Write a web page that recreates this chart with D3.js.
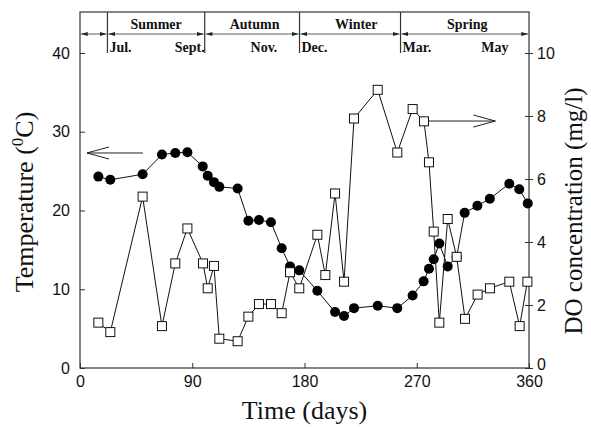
<!DOCTYPE html>
<html><head><meta charset="utf-8">
<script src="https://cdn.jsdelivr.net/npm/d3@7"></script>
<style>body{margin:0;background:#fff}svg{display:block}</style>
</head><body>
<svg id="c" width="591" height="427"></svg>
<script>
// ---- data ----
const tempDays = [14.7,24.3,50.2,65.7,76.4,86.1,98.4,102.4,107.4,111.7,126.4,135,143.5,153.1,161.7,168.4,175.8,190.3,204.5,211.7,219.7,238.7,254.4,266.7,275.5,279.8,283.6,288.1,294.8,302,308.4,318.6,328.6,344.2,352.2,359];
const tempVals = [24.3,23.9,24.6,27.1,27.3,27.4,25.6,24.4,23.6,23.0,22.8,18.7,18.8,18.5,15.2,12.9,12.4,9.8,7.1,6.6,7.6,7.9,7.6,9.2,11.0,12.6,13.8,15.8,12.9,14.1,19.7,20.6,21.5,23.4,22.7,20.9];
const doDays = [14.7,24.3,50.2,65.7,76.4,86.1,98.6,102.4,107.4,111.7,126.4,135,143.5,153.1,161.7,168.4,175.8,190.3,196.7,204.5,211.7,219.7,238.7,254.4,266.7,275.8,279.8,283.6,288.1,294.8,302,308.7,318.8,328.7,344.2,352.5,358.7];
const doVals = [1.44,1.14,5.44,1.33,3.32,4.43,3.32,2.53,3.24,0.93,0.85,1.63,2.03,2.03,1.74,3.04,2.53,4.23,2.95,5.54,2.74,7.92,8.83,6.84,8.22,7.83,6.53,4.33,1.44,4.73,3.53,1.56,2.33,2.53,2.74,1.33,2.74];
const xTicks = [0,90,180,270,360];
const yLeftTicks = [0,10,20,30,40];
const yRightTicks = [0,2,4,6,8,10];
const seasonBounds = [0,22,100,176,257,360];
const seasonNames = ["Summer","Autumn","Winter","Spring"];
const seasonLabelDays = [61,140,221.5,310.5];
const monthNames = ["Jul.","Sept.","Nov.","Dec.","Mar.","May"];
const monthDays = [22,100,147.5,176,257,332.7];
const monthAnchor = ["start","end","middle","start","start","middle"];

// ---- layout ----
const L=80,R=529,T=12,B=368;
const svg=d3.select("#c");
const x=d3.scaleLinear([0,360],[L,R]);
const yL=d3.scaleLinear([0,45],[B,13.6]);
const yR=d3.scaleLinear([0,11.25],[B,13.6]);

const defs=svg.append("defs");
defs.append("marker").attr("id","ah").attr("viewBox","0 0 10 6").attr("refX",10).attr("refY",3)
  .attr("markerWidth",7).attr("markerHeight",4).attr("markerUnits","userSpaceOnUse").attr("orient","auto-start-reverse")
  .append("path").attr("d","M0,0L10,3L0,6Z").attr("fill","#222");

// axes
const ax=svg.append("g");
const gx=ax.append("g").attr("transform",`translate(0,${B})`)
  .call(d3.axisBottom(x).tickValues(xTicks).tickSizeInner(-5).tickSizeOuter(0).tickPadding(8));
const gl=ax.append("g").attr("transform",`translate(${L},0)`)
  .call(d3.axisLeft(yL).tickValues(yLeftTicks).tickSizeInner(-5).tickSizeOuter(0).tickPadding(10));
const gr=ax.append("g").attr("transform",`translate(${R},0)`)
  .call(d3.axisRight(yR).tickValues(yRightTicks).tickSizeInner(4).tickSizeOuter(0).tickPadding(4));
gr.selectAll(".tick line").attr("x1",-4);
[gx,gl,gr].forEach(g=>{g.select(".domain").remove();g.selectAll("text").attr("fill","#111").attr("font-size",16).attr("font-family","'Liberation Sans',Arial,sans-serif");g.selectAll(".tick line").attr("stroke","#333");});
gr.selectAll(".tick text").filter(d=>d===0).attr("dy","0.1em");

svg.append("rect").attr("x",L).attr("y",T).attr("width",R-L).attr("height",B-T)
  .attr("fill","none").attr("stroke","#333").attr("stroke-width",1.2);

// header
const hdr=svg.append("g");
hdr.selectAll("line.sep").data(seasonBounds.slice(1,-1)).join("line")
  .attr("x1",d=>x(d)).attr("x2",d=>x(d)).attr("y1",T).attr("y2",53).attr("stroke","#333").attr("stroke-width",1.2);
hdr.selectAll("line.arr").data(d3.pairs(seasonBounds)).join("line")
  .attr("x1",d=>x(d[0])+1).attr("x2",d=>x(d[1])-1).attr("y1",34).attr("y2",34)
  .attr("stroke","#333").attr("stroke-width",0.8)
  .attr("marker-start","url(#ah)").attr("marker-end","url(#ah)");
hdr.selectAll("text.season").data(seasonNames).join("text")
  .attr("x",(d,i)=>x(seasonLabelDays[i])).attr("y",29).attr("text-anchor","middle")
  .attr("font-family","'Liberation Serif','Times New Roman',serif").attr("font-weight","bold").attr("font-size",14)
  .attr("fill","#111").text(d=>d);
hdr.selectAll("text.month").data(monthNames).join("text")
  .attr("x",(d,i)=>x(monthDays[i])+(monthAnchor[i]==="start"?2:0)).attr("y",52)
  .attr("text-anchor",(d,i)=>monthAnchor[i])
  .attr("font-family","'Liberation Serif','Times New Roman',serif").attr("font-weight","bold").attr("font-size",14)
  .attr("fill","#111").text(d=>d);

// annotation arrows
function openArrow(x1,y,x2){
  const dir=Math.sign(x2-x1);
  svg.append("path").attr("d",`M${x1},${y}L${x2},${y}M${x2-dir*22},${y-6}L${x2},${y}L${x2-dir*22},${y+6}`)
    .attr("fill","none").attr("stroke","#222").attr("stroke-width",1);
}
openArrow(x(50.5),yL(27.3),x(5.6));
openArrow(x(279),yR(7.84),x(333));

// temperature series
const tData=tempDays.map((d,i)=>[d,tempVals[i]]);
svg.append("path").datum(tData).attr("d",d3.line().x(d=>x(d[0])).y(d=>yL(d[1])))
  .attr("fill","none").attr("stroke","#111").attr("stroke-width",1);
svg.selectAll("circle.t").data(tData).join("circle").attr("cx",d=>x(d[0])).attr("cy",d=>yL(d[1])).attr("r",5).attr("fill","#000");

// DO series
const dData=doDays.map((d,i)=>[d,doVals[i]]);
svg.append("path").datum(dData).attr("d",d3.line().x(d=>x(d[0])).y(d=>yR(d[1])))
  .attr("fill","none").attr("stroke","#111").attr("stroke-width",1);
svg.selectAll("rect.d").data(dData).join("rect").attr("x",d=>x(d[0])-4.5).attr("y",d=>yR(d[1])-4.5)
  .attr("width",9).attr("height",9).attr("fill","#fff").attr("stroke","#111").attr("stroke-width",1);

// titles
svg.append("text").attr("x",(L+R)/2).attr("y",419).attr("text-anchor","middle")
  .attr("font-family","'Liberation Serif','Times New Roman',serif").attr("font-size",26).attr("fill","#111").text("Time (days)");
const lt=svg.append("text").attr("transform",`translate(33,${(T+B)/2+12}) rotate(-90)`).attr("text-anchor","middle")
  .attr("font-family","'Liberation Serif','Times New Roman',serif").attr("font-size",26).attr("fill","#111");
lt.append("tspan").text("Temperature (");
lt.append("tspan").attr("dy",-10).attr("font-size",17).text("0");
lt.append("tspan").attr("dy",10).text("C)");
svg.append("text").attr("transform",`translate(582,${(T+B)/2+21}) rotate(-90)`).attr("text-anchor","middle")
  .attr("font-family","'Liberation Serif','Times New Roman',serif").attr("font-size",25).attr("fill","#111").text("DO concentration (mg/l)");
</script>
</body></html>
